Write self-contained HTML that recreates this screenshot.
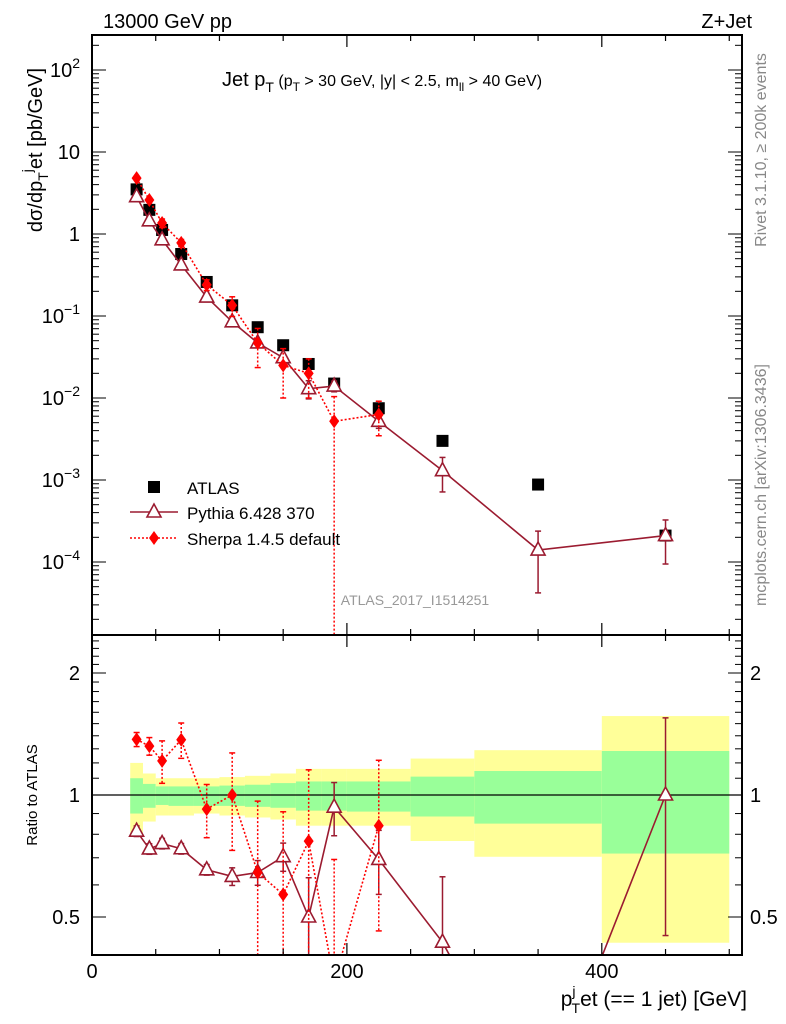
<!DOCTYPE html>
<html><head><meta charset="utf-8"><style>
html,body{margin:0;padding:0;background:#fff;width:786px;height:1024px;overflow:hidden}
#wrap{position:relative;width:786px;height:1024px;overflow:hidden}
#wrap svg{position:absolute;left:0;top:0;font-family:"Liberation Sans",Arial,sans-serif}
</style></head><body>
<div id="wrap">
<svg id="c" width="786" height="1024" viewBox="0 0 786 1024" xmlns="http://www.w3.org/2000/svg"></svg>
<svg width="786" height="1024" viewBox="0 0 786 1024" font-family="Liberation Sans, Arial, sans-serif">
<text x="103" y="28" font-size="20">13000 GeV pp</text>
<text x="752" y="28" font-size="20" text-anchor="end">Z+Jet</text>
<text x="222" y="86" font-size="20">Jet p<tspan dy="6" font-size="14">T</tspan><tspan dy="-6" font-size="16"> (p</tspan><tspan dy="5" font-size="12">T</tspan><tspan dy="-5" font-size="16"> &gt; 30 GeV, |y| &lt; 2.5, m</tspan><tspan dy="5" font-size="12">ll</tspan><tspan dy="-5" font-size="16"> &gt; 40 GeV)</tspan></text>
<text transform="translate(42,150) rotate(-90)" font-size="20" text-anchor="middle">dσ/dp<tspan dy="6" font-size="14">T</tspan><tspan dy="-16" font-size="14">j</tspan><tspan dy="10">et [pb/GeV]</tspan></text>
<text transform="translate(37,795) rotate(-90)" font-size="15" text-anchor="middle">Ratio to ATLAS</text>
<text x="747" y="1006" font-size="21" text-anchor="end">p<tspan dy="-10" font-size="14">j</tspan><tspan dx="-4" dy="17" font-size="14">T</tspan><tspan dy="-7">et (== 1 jet) [GeV]</tspan></text>
<text transform="translate(766,150) rotate(-90)" font-size="16" fill="#888" text-anchor="middle">Rivet 3.1.10, ≥ 200k events</text>
<text transform="translate(766,485) rotate(-90)" font-size="16" fill="#888" text-anchor="middle">mcplots.cern.ch [arXiv:1306.3436]</text>
<text x="415" y="605" font-size="14" fill="#999" text-anchor="middle">ATLAS_2017_I1514251</text>
<g>
<rect x="148" y="481" width="12" height="12" fill="#000"/>
<text x="187" y="494" font-size="17">ATLAS</text>
<line x1="130" x2="178" y1="512" y2="512" stroke="#9b1b30" stroke-width="1.6"/>
<polygon points="154,504 147,517 161,517" fill="#fff" stroke="#9b1b30" stroke-width="1.6"/>
<text x="187" y="519" font-size="17">Pythia 6.428 370</text>
<line x1="130" x2="178" y1="538" y2="538" stroke="#f00" stroke-width="1.6" stroke-dasharray="2,2"/>
<polygon points="154,531 149,538 154,545 159,538" fill="#f00"/>
<text x="187" y="545" font-size="17">Sherpa 1.4.5 default</text>
</g>
</svg>
</div>
<script>
const binEdges=[30,40,50,60,80,100,120,140,160,180,200,250,300,400,500];
const binCenters=[35,45,55,70,90,110,130,150,170,190,225,275,350,450];
const atlasVals=[3.5,1.97,1.12,0.57,0.26,0.135,0.073,0.044,0.026,0.015,0.0075,0.003,0.00088,0.00021];
const pythiaVals=[2.85,1.45,0.85,0.42,0.17,0.085,0.047,0.031,0.013,0.014,0.0052,0.0013,0.00014,0.00021];
const pythiaErr=[0.03,0.03,0.03,0.03,0.03,0.05,0.07,0.08,0.25,0.15,0.18,0.45,0.7,0.55];
const sherpaX=[35,45,55,70,90,110,130,150,170,190,225];
const sherpaVals=[4.8,2.6,1.36,0.78,0.24,0.135,0.047,0.025,0.02,0.0052,0.0063];
const sherpaErr=[0.04,0.05,0.12,0.1,0.15,0.27,0.5,0.6,0.5,1.0,0.45];
const yellowHi=[1.20,1.13,1.10,1.10,1.10,1.107,1.115,1.13,1.16,1.16,1.16,1.23,1.29,1.566];
const yellowLo=[0.80,0.86,0.89,0.89,0.90,0.89,0.88,0.87,0.84,0.84,0.84,0.77,0.704,0.432];
const greenHi=[1.10,1.065,1.05,1.05,1.05,1.055,1.06,1.07,1.08,1.08,1.08,1.11,1.146,1.284];
const greenLo=[0.90,0.93,0.945,0.94,0.94,0.94,0.935,0.93,0.915,0.915,0.91,0.885,0.85,0.717];
const mainYTicks=[-4,-3,-2,-1,0,1,2];
const ratioTicks=[0.5,1,2];
const xTicks=[0,200,400];

const svg=document.getElementById('c');
const NS='http://www.w3.org/2000/svg';
function el(t,a,p){const e=document.createElementNS(NS,t);for(const k in a)e.setAttribute(k,a[k]);(p||svg).appendChild(e);return e;}
const L=92,R=742,T=35,MB=635,RB=955;
const X=v=>L+(v)*(R-L)/510;
const YM=v=>70-(Math.log10(Math.max(v,1e-9))-2)*82;
const YR=v=>795-Math.log2(Math.max(v,1e-3))*122;

const defs=el('defs',{});
const c1=el('clipPath',{id:'cm'},defs);el('rect',{x:L,y:T,width:R-L,height:MB-T},c1);
const c2=el('clipPath',{id:'cr'},defs);el('rect',{x:L,y:MB,width:R-L,height:RB-MB},c2);

const gb=el('g',{'clip-path':'url(#cr)'});


for(let i=0;i<yellowHi.length;i++){
  const x0=X(binEdges[i]),x1=X(binEdges[i+1]);
  const y=el('rect',{x:x0,y:YR(yellowHi[i]),width:x1-x0,height:YR(yellowLo[i])-YR(yellowHi[i]),fill:'#ffff99'},gb);
  
  
  const g=el('rect',{x:x0,y:YR(greenHi[i]),width:x1-x0,height:YR(greenLo[i])-YR(greenHi[i]),fill:'#99ff99'},gb);
  
  
}
el('line',{x1:L,x2:R,y1:YR(1),y2:YR(1),stroke:'#000','stroke-width':1.2},gb);

function series(xs,vals,errs,Y,clip,color,dash,marker,name,ratioDen){
  const g=el('g',{'clip-path':'url(#'+clip+')'});
  
  
  const v=xs.map((x,i)=>ratioDen?vals[i]/ratioDen[binCenters.indexOf(x)]:vals[i]);
  const pts=xs.map((x,i)=>X(x)+','+Y(v[i])).join(' ');
  const da=dash?{'stroke-dasharray':'2,2'}:{};
  el('polyline',Object.assign({points:pts,fill:'none',stroke:color,'stroke-width':1.6},da),g);
  xs.forEach((x,i)=>{
    const cx=X(x),hi=Y(v[i]*(1+errs[i])),lo=Y(v[i]*Math.max(1-errs[i],1e-6));
    el('line',Object.assign({x1:cx,x2:cx,y1:hi,y2:lo,stroke:color,'stroke-width':1.5},da),g);
    el('line',{x1:cx-3,x2:cx+3,y1:hi,y2:hi,stroke:color,'stroke-width':1.5},g);
    el('line',{x1:cx-3,x2:cx+3,y1:lo,y2:lo,stroke:color,'stroke-width':1.5},g);
    const cy=Y(v[i]);
    if(marker==='tri'){const m=el('polygon',{points:`${cx},${cy-8} ${cx-7},${cy+5} ${cx+7},${cy+5}`,fill:'#fff',stroke:color,'stroke-width':1.6},g);
      }
    else{const m=el('polygon',{points:`${cx},${cy-7} ${cx-5},${cy} ${cx},${cy+7} ${cx+5},${cy}`,fill:color},g);
      }
  });
}
const ga=el('g',{'clip-path':'url(#cm)'});


binCenters.forEach((x,i)=>{const r=el('rect',{x:X(x)-6,y:YM(atlasVals[i])-6,width:12,height:12,fill:'#000'},ga);
  });
series(binCenters,pythiaVals,pythiaErr,YM,'cm','#9b1b30',false,'tri','pythia-series',null);
series(sherpaX,sherpaVals,sherpaErr,YM,'cm','#ff0000',true,'dia','sherpa-series',null);
series(binCenters,pythiaVals,pythiaErr,YR,'cr','#9b1b30',false,'tri','pythia-ratio',atlasVals);
series(sherpaX,sherpaVals,sherpaErr,YR,'cr','#ff0000',true,'dia','sherpa-ratio',atlasVals);

el('rect',{x:L,y:T,width:R-L,height:MB-T,fill:'none',stroke:'#000','stroke-width':2});
el('rect',{x:L,y:MB,width:R-L,height:RB-MB,fill:'none',stroke:'#000','stroke-width':2});

for(let v=0;v<=500;v+=50){const major=v%200===0;const len=major?12:6;
  for(const [yb,yt] of [[MB,T],[RB,MB]]){
    el('line',{x1:X(v),x2:X(v),y1:yb,y2:yb-len,stroke:'#000','stroke-width':1.2});
    el('line',{x1:X(v),x2:X(v),y1:yt,y2:yt+len,stroke:'#000','stroke-width':1.2});
  }}
xTicks.forEach(v=>{const t=el('text',{x:X(v),y:978,'font-size':20,'text-anchor':'middle'});t.textContent=v;
  });
for(let d=-5;d<=2;d++){for(let m=1;m<10;m++){const v=m*Math.pow(10,d);const y=YM(v);if(y<T||y>MB)continue;
  const len=m===1?14:7;
  el('line',{x1:L,x2:L+len,y1:y,y2:y,stroke:'#000','stroke-width':1});
  el('line',{x1:R,x2:R-len,y1:y,y2:y,stroke:'#000','stroke-width':1});}}
mainYTicks.forEach(d=>{const y=YM(Math.pow(10,d));const t=el('text',{x:80,y:y+7,'font-size':20,'text-anchor':'end'});
  
  if(d===0)t.textContent='1';else if(d===1)t.textContent='10';
  else{t.textContent='10';const s=el('tspan',{dy:-9,'font-size':14},t);s.textContent=String(d).replace('-','\u2212');}});
for(let v=0.4;v<2.5;v+=0.1){const y=YR(v);if(y<MB||y>RB)continue;const major=Math.abs(v-0.5)<1e-6||Math.abs(v-1)<1e-6||Math.abs(v-2)<1e-6;
  const len=major?14:7;
  el('line',{x1:L,x2:L+len,y1:y,y2:y,stroke:'#000','stroke-width':1});
  el('line',{x1:R,x2:R-len,y1:y,y2:y,stroke:'#000','stroke-width':1});}
ratioTicks.forEach(v=>{const y=YR(v)+7;
  const a=el('text',{x:80,y:y,'font-size':20,'text-anchor':'end'});a.textContent=v;
  
  const b=el('text',{x:750,y:y,'font-size':20});b.textContent=v;
  });
</script>
</body></html>
